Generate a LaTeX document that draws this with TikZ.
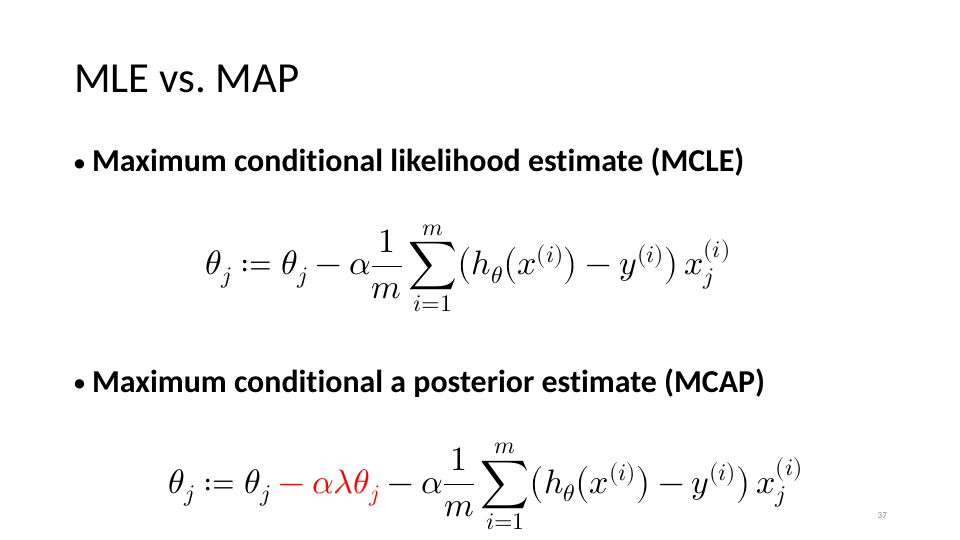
\documentclass[tikz,border=0pt]{standalone}
\usepackage{fontspec}
\usepackage{unicode-math}
\setmainfont{Carlito}[Ligatures=NoCommon]
\setmathfont{Latin Modern Math}
\frenchspacing
\newcommand{\slidebullet}{{\fontsize{22}{26}\selectfont\raisebox{1.5bp}{•}}\hspace{7bp}}
\begin{document}
\begin{tikzpicture}[x=1bp,y=-1bp, line join=round, line cap=round]
		\useasboundingbox (0,0) rectangle (960,540);
		\tikzset{bullet/.style={anchor=base west, inner sep=0pt, font=\fontsize{32}{38}\selectfont\bfseries},
			formula/.style={anchor=base west, inner sep=0pt, font=\fontsize{34}{40}\selectfont}}
		\node (title) at (74,93) [anchor=base west, inner sep=0pt, font=\fontsize{43}{50}\selectfont]{MLE vs. MAP};
		\node (mcle) at (74,172) [bullet]{\slidebullet Maximum conditional likelihood estimate (MCLE)};
		\node (mcleeq) at (205,275) [formula]{$\displaystyle \theta_j \coloneq \theta_j - \alpha\frac{1}{m}\sum_{i=1}^{m}\bigl(h_\theta\bigl(x^{(i)}\bigr)-y^{(i)}\bigr)\,x_j^{(i)}$};
		\node (mcap) at (74,392) [bullet]{\slidebullet Maximum conditional a posterior estimate (MCAP)};
		\node (mcapeq) at (168,493) [formula]{$\displaystyle \theta_j \coloneq \theta_j \color{red}{}- \alpha\lambda\theta_j \color{black}{}- \alpha\frac{1}{m}\sum_{i=1}^{m}\bigl(h_\theta\bigl(x^{(i)}\bigr)-y^{(i)}\bigr)\,x_j^{(i)}$};
		\node (page) at (887,518) [anchor=base east, inner sep=0pt, font=\fontsize{9}{11}\selectfont, text=gray]{37};
	\end{tikzpicture}
\end{document}
